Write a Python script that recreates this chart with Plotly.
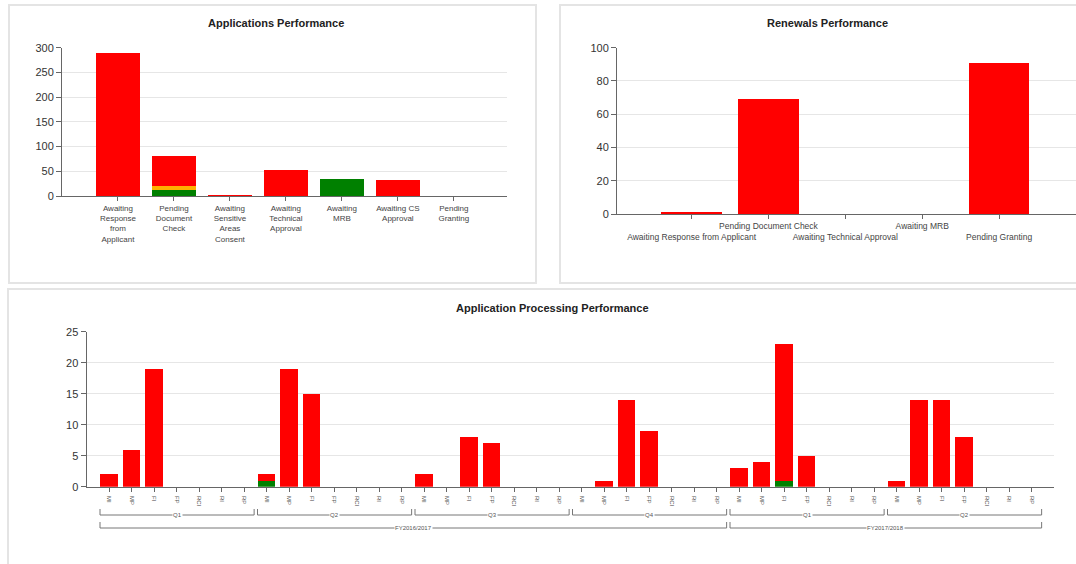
import plotly.graph_objects as go

# ---------------- data ----------------
app_categories = ["Awaiting<br>Response<br>from<br>Applicant", "Pending<br>Document<br>Check",
                  "Awaiting<br>Sensitive<br>Areas<br>Consent", "Awaiting<br>Technical<br>Approval",
                  "Awaiting<br>MRB", "Awaiting CS<br>Approval", "Pending<br>Granting"]
app_green = [0, 13, 0, 0, 34, 0, 0]
app_amber = [0, 7, 0, 0, 0, 0, 0]
app_red = [290, 61, 2, 52, 0, 32, 0]

ren_categories = ["Awaiting Response from Applicant", "Pending Document Check",
                  "Awaiting Technical Approval", "Awaiting MRB", "Pending Granting"]
ren_red = [1, 69, 0, 0, 91]

stages = ["MI", "MP", "FI", "FP", "RCI", "RI", "RP"]
quarters = ["Q1", "Q2", "Q3", "Q4", "Q1", "Q2"]
quarter_fy = ["FY2016/2017", "FY2016/2017", "FY2016/2017", "FY2016/2017", "FY2017/2018", "FY2017/2018"]
fiscal_years = ["FY2016/2017", "FY2017/2018"]
proc_green = [0, 0, 0, 0, 0, 0, 0,
              1, 0, 0, 0, 0, 0, 0,
              0, 0, 0, 0, 0, 0, 0,
              0, 0, 0, 0, 0, 0, 0,
              0, 0, 1, 0, 0, 0, 0,
              0, 0, 0, 0, 0, 0, 0]
proc_red = [2, 6, 19, 0, 0, 0, 0,
            1, 19, 15, 0, 0, 0, 0,
            2, 0, 8, 7, 0, 0, 0,
            0, 1, 14, 9, 0, 0, 0,
            3, 4, 22, 5, 0, 0, 0,
            1, 14, 14, 8, 0, 0, 0]

# ---------------- layout helpers ----------------
W, H = 1076, 564
def fx(px):
    return px / W
def fy(py):
    return 1 - py / H

RED = "#FF0000"
GREEN = "#008000"
AMBER = "#FFB000"
FONT = "Liberation Sans, Arial, sans-serif"
AXC = "#666666"
GRID = "#e6e6e6"

fig = go.Figure()

# Applications performance
fig.add_bar(x=app_categories, y=app_green, marker_color=GREEN, xaxis="x", yaxis="y")
fig.add_bar(x=app_categories, y=app_amber, marker_color=AMBER, xaxis="x", yaxis="y")
fig.add_bar(x=app_categories, y=app_red, marker_color=RED, xaxis="x", yaxis="y")

# Renewals performance
fig.add_bar(x=ren_categories, y=ren_red, marker_color=RED, xaxis="x2", yaxis="y2")

# Processing performance
idx = list(range(len(proc_red)))
fig.add_bar(x=idx, y=proc_green, marker_color=GREEN, xaxis="x3", yaxis="y3")
fig.add_bar(x=idx, y=proc_red, marker_color=RED, xaxis="x3", yaxis="y3")

fig.update_traces(marker_line_width=0, hoverinfo="skip")

yaxis_common = dict(showline=True, linecolor=AXC, linewidth=1, ticks="outside", ticklen=5,
                    tickcolor=AXC, gridcolor=GRID, zeroline=False, automargin=False,
                    tickfont=dict(size=11, color="#333", family=FONT))
xaxis_common = dict(showline=True, linecolor=AXC, linewidth=1, ticks="outside", ticklen=4,
                    tickcolor=AXC, showgrid=False, zeroline=False, automargin=False)

ren_ticktext = [("\u00a0<br>" + c) if i % 2 == 0 else c for i, c in enumerate(ren_categories)]
ticktext3 = [stages[i % len(stages)] for i in idx]

fig.update_layout(
    width=W, height=H,
    margin=dict(l=0, r=0, t=0, b=0, autoexpand=False),
    paper_bgcolor="white", plot_bgcolor="white",
    barmode="stack", bargap=0.21, showlegend=False,
    font=dict(family=FONT, color="#333"),
    xaxis=dict(xaxis_common, domain=[fx(62), fx(507)], anchor="y", range=[-1, 6.95],
               tickangle=0, tickfont=dict(size=8, color="#444")),
    yaxis=dict(yaxis_common, domain=[fy(196), fy(47.7)], anchor="x", range=[0, 300],
               tickvals=[0, 50, 100, 150, 200, 250, 300]),
    xaxis2=dict(xaxis_common, domain=[fx(617), 1.0], anchor="y2", range=[-0.97, 5],
                tickmode="array", tickvals=ren_categories, ticktext=ren_ticktext, tickangle=0,
                tickfont=dict(size=8.5, color="#444")),
    yaxis2=dict(yaxis_common, domain=[fy(214), fy(47.7)], anchor="x2", range=[0, 100],
                tickvals=[0, 20, 40, 60, 80, 100]),
    xaxis3=dict(xaxis_common, domain=[fx(86.5), fx(1054)], anchor="y3", range=[-1, 42],
                tickmode="array", tickvals=idx, ticktext=ticktext3, tickangle=90,
                ticklabelstandoff=3, tickfont=dict(size=6, color="#555")),
    yaxis3=dict(yaxis_common, domain=[fy(486.7), fy(331.7)], anchor="x3", range=[0, 25],
                tickvals=[0, 5, 10, 15, 20, 25]),
)

shapes = []
# cards
for (x0, y0, x1, y1) in [(9, 5, 536, 283), (560, 5, 1090, 283), (8, 289, 1090, 580)]:
    shapes.append(dict(type="rect", xref="paper", yref="paper", x0=fx(x0), x1=fx(x1),
                       y0=fy(y1), y1=fy(y0), line=dict(color="#e4e4e4", width=2),
                       fillcolor="rgba(0,0,0,0)", layer="below"))

annotations = []
# titles
for text, cx, cy in [("Applications Performance", 276, 23), ("Renewals Performance", 827, 23),
                     ("Application Processing Performance", 552, 308)]:
    annotations.append(dict(text="<b>" + text + "</b>", x=fx(cx), y=fy(cy), xref="paper", yref="paper",
                            xanchor="center", yanchor="middle",
                            showarrow=False, font=dict(size=11, color="#222", family=FONT)))

# group brackets (quarters and fiscal years)
n = len(stages)
def bracket(i0, i1, yline, label):
    x0 = i0 - 0.4
    x1 = i1 + 0.45
    shapes.append(dict(type="line", xref="x3", yref="paper", x0=x0, x1=x1, y0=fy(yline), y1=fy(yline),
                       line=dict(color="#777", width=1)))
    for xx in (x0, x1):
        shapes.append(dict(type="line", xref="x3", yref="paper", x0=xx, x1=xx, y0=fy(yline),
                           y1=fy(yline - 6), line=dict(color="#777", width=1)))
    annotations.append(dict(text=label, x=(x0 + x1) / 2, y=fy(yline), xref="x3", yref="paper",
                            xanchor="center", yanchor="middle",
                            showarrow=False, bgcolor="white", borderpad=0,
                            font=dict(size=6, color="#555", family=FONT)))

for q, qname in enumerate(quarters):
    bracket(q * n, q * n + n - 1, 515, qname)
for fyname in fiscal_years:
    qs = [q for q, f in enumerate(quarter_fy) if f == fyname]
    bracket(qs[0] * n, qs[-1] * n + n - 1, 528, fyname)

fig.update_layout(shapes=shapes, annotations=annotations)

page_js = ("document.body.style.margin='0';document.body.style.overflow='hidden';"
           "var gd=document.getElementById('{plot_id}');"
           "gd.style.position='fixed';gd.style.left='0px';gd.style.top='0px';")
fig.write_html("out.html", config={"displayModeBar": False}, post_script=page_js)
